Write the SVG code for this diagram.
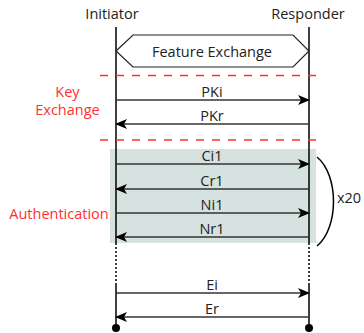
<svg xmlns="http://www.w3.org/2000/svg" width="364" height="333" viewBox="0 0 364 333">
<defs>
<style>
text{font-family:"Open Sans","DejaVu Sans",sans-serif;font-size:14.5px;fill:#222;text-anchor:middle}
.red{fill:#ff3030}
.msg{stroke:#333;stroke-width:1.5;fill:none}
.life{stroke:#000;stroke-width:1.5;fill:none}
.dash{stroke:#ff3030;stroke-width:1.5;stroke-dasharray:8 8;fill:none}
</style>
<marker id="ah" viewBox="0 0 12 10" refX="11" refY="5" markerWidth="12" markerHeight="10" markerUnits="userSpaceOnUse" orient="auto">
<path d="M0,0 L12,5 L0,10 L3,5 Z" fill="#000"/>
</marker>
</defs>
<rect x="110" y="149" width="206" height="94" fill="#d6e2df"/>
<g id="initiator">
<text x="112" y="19">Initiator</text>
<path class="life" d="M116,27 V243"/>
<path class="life" d="M116,243 V283" stroke-dasharray="2 2"/>
<path class="life" d="M116,283 V328"/>
<circle cx="116" cy="328" r="4" fill="#000"/>
</g>
<g id="responder">
<text x="308" y="19">Responder</text>
<path class="life" d="M309,27 V243"/>
<path class="life" d="M309,243 V283" stroke-dasharray="2 2"/>
<path class="life" d="M309,283 V328"/>
<circle cx="309" cy="328" r="4" fill="#000"/>
</g>
<g id="feature">
<path d="M116,51 L133,35 H293 L309,51 L293,67 H133 Z" fill="#fff" stroke="#222" stroke-width="1.2"/>
<text x="212" y="57">Feature Exchange</text>
</g>
<g id="phases">
<path class="dash" d="M100,75.5 H318"/>
<path class="dash" d="M100,140 H318"/>
<text class="red" x="67.5" y="97">Key</text>
<text class="red" x="67.5" y="115">Exchange</text>
<text class="red" x="59" y="219">Authentication</text>
<path d="M317,157 C339,175 339,228 317,246" fill="none" stroke="#000" stroke-width="1.5"/>
<text x="349" y="203">x20</text>
</g>
<g id="connectors">
<path class="msg" d="M116,100 H309" marker-end="url(#ah)"/>
<text x="212" y="97">PKi</text>
<path class="msg" d="M309,124 H116" marker-end="url(#ah)"/>
<text x="212" y="121">PKr</text>
<path class="msg" d="M116,164 H309" marker-end="url(#ah)"/>
<text x="212" y="161">Ci1</text>
<path class="msg" d="M309,189 H116" marker-end="url(#ah)"/>
<text x="212" y="186">Cr1</text>
<path class="msg" d="M116,213 H309" marker-end="url(#ah)"/>
<text x="212" y="210">Ni1</text>
<path class="msg" d="M309,237 H116" marker-end="url(#ah)"/>
<text x="212" y="234">Nr1</text>
<path class="msg" d="M116,293 H309" marker-end="url(#ah)"/>
<text x="212" y="290">Ei</text>
<path class="msg" d="M309,317 H116" marker-end="url(#ah)"/>
<text x="212" y="314">Er</text>
</g>
</svg>
